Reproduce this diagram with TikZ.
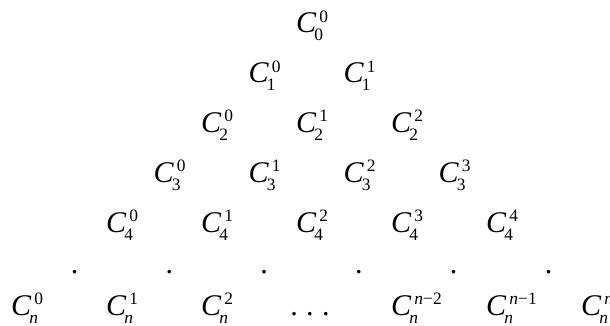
\documentclass[tikz,border=0pt]{standalone}
\usepackage{fontspec}
\setmainfont{Liberation Serif}
\newcommand\Sm[1]{{\fontsize{17.4pt}{18pt}\selectfont #1}}
\newcommand\Cnm[2]{\textit{C}\kern-2pt\rlap{\kern5pt\raisebox{10.5pt}{\Sm{#1}}}\raisebox{-8pt}{\Sm{#2}}}
\tikzset{
  cell/.style={inner sep=0pt, anchor=base west, font=\fontsize{30pt}{36pt}\selectfont},
  sdot/.style={inner sep=0pt, anchor=base, font=\fontsize{30pt}{36pt}\selectfont}
}
\begin{document}
\begin{tikzpicture}[x=1pt,y=-1pt]
\useasboundingbox (0,0) rectangle (610,326);
% rows 0..4
\foreach \k in {0,...,4}{
  \foreach \j in {0,...,\k}{
    \node[cell] (c\k\j) at ({307.5+95*(\j-\k/2)-11.5},{33+49.75*\k}) {\Cnm{\j}{\k}};
  }
}
% dot row
\foreach \j in {0,...,5}{
  \node[sdot] (d\j) at ({74.5+94.8*\j},273) {.};
}
% last row
\node[cell] (n0) at ({307.5-285-11.5},315) {\Cnm{0}{\itshape n}};
\node[cell] (n1) at ({307.5-190-11.5},315) {\Cnm{1}{\itshape n}};
\node[cell] (n2) at ({307.5-95-11.5},315) {\Cnm{2}{\itshape n}};
\node[sdot] (ell) at (310,315) {.\hspace{8.5pt}.\hspace{8.5pt}.};
\node[cell] (n3) at ({307.5+95-11.5},315) {\Cnm{\itshape n\/\upshape −2}{\itshape n}};
\node[cell] (n4) at ({307.5+190-11.5},315) {\Cnm{\itshape n\/\upshape −1}{\itshape n}};
\node[cell] (n5) at ({307.5+285-11.5},315) {\Cnm{\itshape n}{\itshape n}};
\end{tikzpicture}
\end{document}
